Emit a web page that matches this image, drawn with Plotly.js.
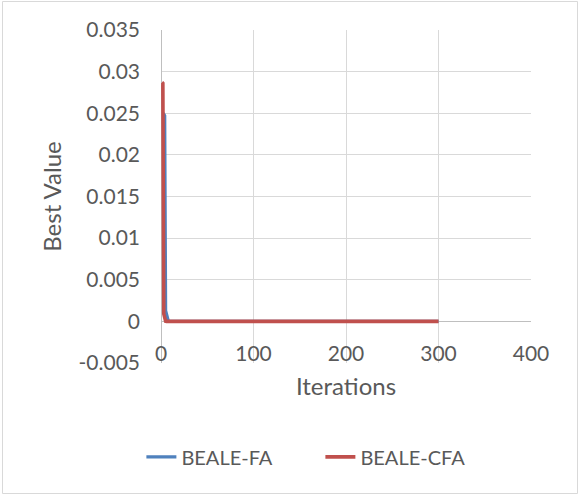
<!DOCTYPE html>
<html>
<head>
<meta charset="utf-8">
<script src="https://cdn.plot.ly/plotly-3.0.1.min.js"></script>
<style>
  html, body { margin: 0; padding: 0; background: #ffffff; }
  #chart { width: 579px; height: 495px; }
</style>
</head>
<body>
<div id="chart"></div>
<script>
// Iteration indices where the curves are sampled
const iterFA  = [1, 2, 3, 4, 5, 6, 7, 8, 10, 20, 50, 100, 150, 200, 250, 300];
const iterCFA = [1, 2, 3, 4, 5, 6, 8, 10, 20, 50, 100, 150, 200, 250, 300];

// Best value per iteration
const bealeFA  = [0.0250, 0.0250, 0.0249, 0.0247, 0.0013, 0.0008, 0.0002, 0.00003, 0.00001, 0, 0, 0, 0, 0, 0, 0];
const bealeCFA = [0.0287, 0.0286, 0.0009, 0.0001, 0.00002, 0, 0, 0, 0, 0, 0, 0, 0, 0, 0];

const seriesNames = ["BEALE-FA", "BEALE-CFA"];

// Axis ticks
const xTickVals = [0, 100, 200, 300, 400];
const yTickVals = [-0.005, 0, 0.005, 0.01, 0.015, 0.02, 0.025, 0.03, 0.035];
const yTickText = ["-0.005", "0", "0.005", "0.01", "0.015", "0.02", "0.025", "0.03", "0.035"];

const FONT = "Lato, 'Liberation Sans', sans-serif";
const TXT = "#595959";
const GRID = "#d9d9d9";

const traces = [
  {
    x: iterFA, y: bealeFA, name: seriesNames[0], type: "scatter", mode: "lines",
    line: { color: "#4F81BD", width: 3.2, shape: "linear" }
  },
  {
    x: iterCFA, y: bealeCFA, name: seriesNames[1], type: "scatter", mode: "lines",
    line: { color: "#C0504D", width: 3.6, shape: "linear" }
  }
];

const layout = {
  width: 579, height: 495,
  margin: { l: 161, r: 48, t: 30, b: 132, pad: 0 },
  paper_bgcolor: "#ffffff", plot_bgcolor: "#ffffff",
  font: { family: FONT, size: 21, color: TXT },
  showlegend: true,
  legend: {
    orientation: "h", x: -0.053, xanchor: "left", y: -0.282, yanchor: "middle",
    font: { family: FONT, size: 20, color: TXT }, bgcolor: "rgba(0,0,0,0)",
    itemwidth: 30, tracegroupgap: 0,
    entrywidth: 134, entrywidthmode: "pixels"
  },
  xaxis: {
    range: [0, 400], tickvals: xTickVals, ticktext: xTickVals.map(String),
    showgrid: true, gridcolor: GRID, gridwidth: 1,
    zeroline: true, zerolinecolor: "#bfbfbf", zerolinewidth: 1,
    showline: false, ticks: "", anchor: "free", position: 0.126,
    ticklabelstandoff: 18,
    tickfont: { family: FONT, size: 21, color: TXT },
    title: { text: "Iterations", font: { family: FONT, size: 24, color: TXT }, standoff: 14 },
    fixedrange: true
  },
  yaxis: {
    range: [-0.005, 0.035], tickvals: yTickVals, ticktext: yTickText,
    showgrid: true, gridcolor: GRID, gridwidth: 1,
    zeroline: true, zerolinecolor: "#bfbfbf", zerolinewidth: 1,
    showline: false, ticks: "", ticklabelstandoff: 20,
    tickfont: { family: FONT, size: 21, color: TXT },
    title: { text: "Best Value", font: { family: FONT, size: 24, color: TXT }, standoff: 10 },
    fixedrange: true
  },
  shapes: [
    {
      type: "rect", xref: "paper", yref: "paper",
      x0: -0.4284, x1: 1.1257, y0: -0.3919, y1: 1.0856,
      line: { color: GRID, width: 1 }, fillcolor: "rgba(0,0,0,0)", layer: "below"
    }
  ]
};

Plotly.newPlot("chart", traces, layout, { staticPlot: true, displayModeBar: false });
</script>
</body>
</html>
